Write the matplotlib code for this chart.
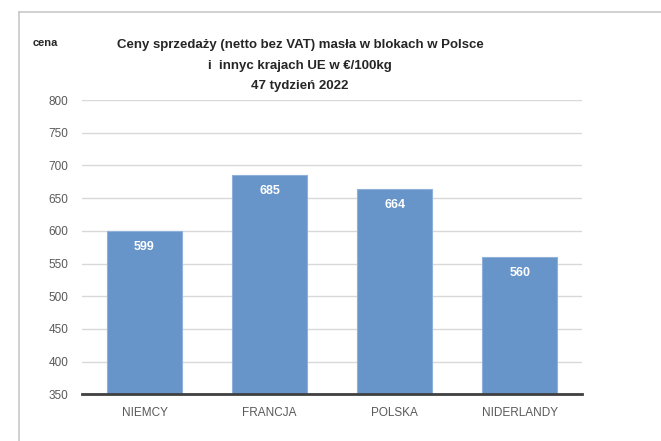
import numpy as np
import matplotlib
matplotlib.use('Agg')
import matplotlib.pyplot as plt
from matplotlib.lines import Line2D

# data
kraje = ['NIEMCY', 'FRANCJA', 'POLSKA', 'NIDERLANDY']
ceny = [599, 685, 664, 560]
y_ticks = [350, 400, 450, 500, 550, 600, 650, 700, 750, 800]

plt.rcParams['font.family'] = ['Liberation Sans', 'DejaVu Sans']

fig = plt.figure(figsize=(6.61, 4.41), dpi=100)
ax = fig.add_axes([0.124, 0.106, 0.757, 0.667])

x = np.arange(len(kraje))
bars = ax.bar(x, ceny, width=0.6, color='#6794c9', edgecolor='#8fb0da',
              linewidth=0.8, zorder=3)

ax.set_ylim(350, 800)
ax.set_xlim(-0.5, len(kraje) - 0.5)
ax.set_yticks(y_ticks)
ax.tick_params(axis='y', length=0, labelsize=8.5, colors='#595959', pad=10)
ax.set_xticks(x)
ax.set_xticklabels(kraje)
ax.tick_params(axis='x', length=0, labelsize=8.5, colors='#595959', pad=9)
ax.grid(axis='y', color='#d9d9d9', linewidth=1, zorder=0)

for s in ['top', 'right', 'left']:
    ax.spines[s].set_visible(False)
ax.spines['bottom'].set_color('#404040')
ax.spines['bottom'].set_linewidth(2)
ax.spines['bottom'].set_zorder(4)

for xi, v in zip(x, ceny):
    ax.text(xi, v - 24, str(v), ha='center', va='center', color='white',
            fontsize=9, fontweight='bold', zorder=5)

# title and axis name
fig.text(0.454, 0.898, 'Ceny sprzedaży (netto bez VAT) masła w blokach w Polsce',
         ha='center', va='center', fontsize=9.5, fontweight='bold', color='#262626')
fig.text(0.454, 0.851, 'i  innyc krajach UE w €/100kg',
         ha='center', va='center', fontsize=9.5, fontweight='bold', color='#262626')
fig.text(0.454, 0.805, '47 tydzień 2022',
         ha='center', va='center', fontsize=9.5, fontweight='bold', color='#262626')
fig.text(0.050, 0.902, 'cena', ha='left', va='center', fontsize=8,
         fontweight='bold', color='#262626')

# frame of the chart area
fig.add_artist(Line2D([0.028, 1.0], [0.973, 0.973], color='#c8c8c8', linewidth=1.2))
fig.add_artist(Line2D([0.028, 0.028], [0.0, 0.973], color='#c8c8c8', linewidth=1.2))

plt.savefig('out.png', dpi=100)
